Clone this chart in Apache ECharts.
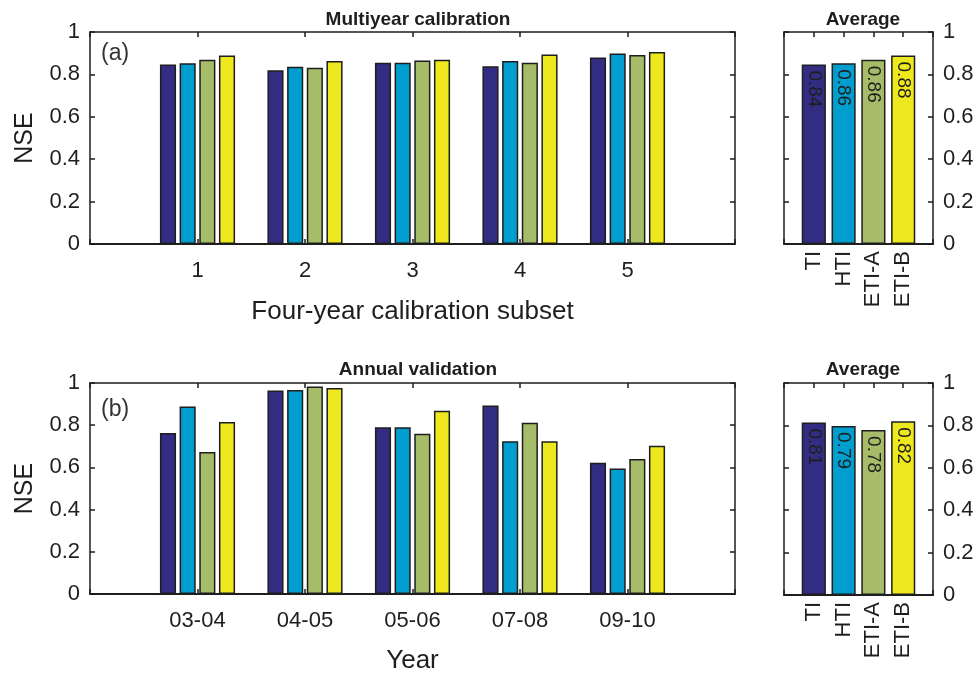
<!DOCTYPE html>
<html>
<head>
<meta charset="utf-8">
<script src="https://cdn.jsdelivr.net/npm/echarts@6/dist/echarts.min.js"></script>
<style>html,body{margin:0;padding:0;background:#fff;}#c{width:977px;height:675px;}</style>
</head>
<body>
<div id="c"></div>
<script>
// ---- data ----
const calCategories = ['1', '2', '3', '4', '5'];
const valCategories = ['03-04', '04-05', '05-06', '07-08', '09-10'];
const methods = ['TI', 'HTI', 'ETI-A', 'ETI-B'];

const calTI   = [0.847, 0.819, 0.855, 0.838, 0.880];
const calHTI  = [0.853, 0.836, 0.855, 0.863, 0.898];
const calETIA = [0.869, 0.831, 0.866, 0.855, 0.892];
const calETIB = [0.889, 0.863, 0.869, 0.894, 0.906];

const valTI   = [0.763, 0.964, 0.790, 0.893, 0.622];
const valHTI  = [0.889, 0.967, 0.790, 0.724, 0.595];
const valETIA = [0.673, 0.983, 0.760, 0.812, 0.640];
const valETIB = [0.815, 0.976, 0.868, 0.724, 0.703];

const calAverage = [0.847, 0.853, 0.869, 0.889];
const calAverageLabels = ['0.84', '0.86', '0.86', '0.88'];
const valAverage = [0.814, 0.797, 0.778, 0.820];
const valAverageLabels = ['0.81', '0.79', '0.78', '0.82'];

const colors = ['#322D82', '#009ECE', '#A6BC68', '#EEE81E'];

// ---- helpers ----
const FONT = 'Liberation Sans, Arial, Helvetica, sans-serif';
const INK = '#1e1e1e';
const pad = arr => ['', ...arr, ''];
const padVals = arr => ['-', ...arr, '-'];
const lineStyle = { color: INK, width: 1.5 };

function xAxes(grid, cats, opts) {
  return [
    {
      type: 'category', gridIndex: grid, data: pad(cats), boundaryGap: false, position: 'bottom',
      axisLine: { show: true, onZero: false, lineStyle: { color: INK, width: 2 } },
      axisTick: { show: true, inside: true, length: 5, interval: 0, lineStyle },
      axisLabel: Object.assign({ show: true, interval: 0, fontSize: 22, color: INK, fontFamily: FONT, margin: 16 }, opts.label || {}),
      splitLine: { show: false },
      name: opts.name || '', nameLocation: 'middle', nameGap: opts.nameGap || 0,
      nameTextStyle: { fontSize: 26, color: INK, fontFamily: FONT }
    },
    {
      type: 'category', gridIndex: grid, data: pad(cats), boundaryGap: false, position: 'top',
      axisLine: { show: true, onZero: false, lineStyle },
      axisTick: { show: true, inside: true, length: 5, interval: 0, lineStyle },
      axisLabel: { show: false }, splitLine: { show: false }
    }
  ];
}

function yAxes(grid, leftLabels, name) {
  const common = {
    type: 'value', gridIndex: grid, min: 0, max: 1, interval: 0.2,
    axisLine: { show: true, onZero: false, lineStyle },
    axisTick: { show: true, inside: true, length: 5, lineStyle },
    splitLine: { show: false }
  };
  return [
    Object.assign({}, common, {
      position: 'left',
      axisLabel: { show: leftLabels, fontSize: 22, color: INK, fontFamily: FONT, margin: 10 },
      name: name || '', nameLocation: 'middle', nameGap: 52,
      nameTextStyle: { fontSize: 25, color: INK, fontFamily: FONT }
    }),
    Object.assign({}, common, {
      position: 'right',
      axisLabel: { show: !leftLabels, fontSize: 22, color: INK, fontFamily: FONT, margin: 10 }
    })
  ];
}

const barItem = c => ({ color: c, borderColor: INK, borderWidth: 1.5 });

function groupSeries(axisIdx, arrays) {
  return arrays.map((arr, i) => ({
    type: 'bar', name: methods[i], xAxisIndex: axisIdx.x, yAxisIndex: axisIdx.y,
    data: padVals(arr), barWidth: '15%', barGap: '22%',
    itemStyle: barItem(colors[i])
  }));
}

function averageSeries(axisIdx, values, labels) {
  return {
    type: 'bar', xAxisIndex: axisIdx.x, yAxisIndex: axisIdx.y, barWidth: '81%',
    data: padVals(values.map((v, i) => ({ value: v, itemStyle: barItem(colors[i]) }))),
    label: {
      show: true, position: 'insideTop', rotate: -90, align: 'left', verticalAlign: 'middle',
      distance: 6, fontSize: 19, color: INK, fontFamily: FONT,
      formatter: p => labels[p.dataIndex - 1]
    }
  };
}

const grids = [
  { left: 90, top: 32, width: 645, height: 212 },
  { left: 784, top: 32, width: 149, height: 212 },
  { left: 90, top: 383, width: 645, height: 212 },
  { left: 784, top: 383, width: 149, height: 212 }
];

const xAxisList = [].concat(
  xAxes(0, calCategories, { name: 'Four-year calibration subset', nameGap: 55 }),
  xAxes(1, methods, { label: { rotate: 90, margin: 7 } }),
  xAxes(2, valCategories, { name: 'Year', nameGap: 54 }),
  xAxes(3, methods, { label: { rotate: 90, margin: 7 } })
);
const yAxisList = [].concat(
  yAxes(0, true, 'NSE'),
  yAxes(1, false),
  yAxes(2, true, 'NSE'),
  yAxes(3, false)
);

const titleStyle = { fontSize: 19, fontWeight: 'bold', color: INK, fontFamily: FONT };

const option = {
  animation: false,
  backgroundColor: '#fff',
  title: [
    { text: 'Multiyear calibration', left: 413, top: 5, textAlign: 'center', textStyle: titleStyle },
    { text: 'Average', left: 858, top: 5, textAlign: 'center', textStyle: titleStyle },
    { text: 'Annual validation', left: 413, top: 355, textAlign: 'center', textStyle: titleStyle },
    { text: 'Average', left: 858, top: 355, textAlign: 'center', textStyle: titleStyle }
  ],
  grid: grids,
  xAxis: xAxisList,
  yAxis: yAxisList,
  graphic: [
    { type: 'text', left: 101, top: 42, style: { text: '(a)', fontSize: 23, fill: '#333', fontFamily: FONT } },
    { type: 'text', left: 101, top: 398, style: { text: '(b)', fontSize: 23, fill: '#333', fontFamily: FONT } }
  ],
  series: [].concat(
    groupSeries({ x: 0, y: 0 }, [calTI, calHTI, calETIA, calETIB]),
    [averageSeries({ x: 2, y: 2 }, calAverage, calAverageLabels)],
    groupSeries({ x: 4, y: 4 }, [valTI, valHTI, valETIA, valETIB]),
    [averageSeries({ x: 6, y: 6 }, valAverage, valAverageLabels)]
  )
};

const chart = echarts.init(document.getElementById('c'), null, { renderer: 'canvas' });
chart.setOption(option);
</script>
</body>
</html>
